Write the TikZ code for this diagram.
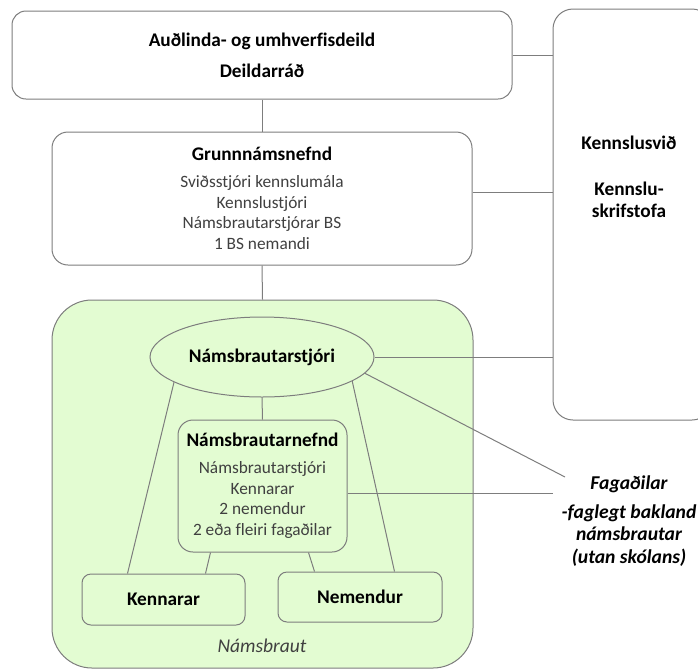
\documentclass[tikz,border=0pt]{standalone}
\usepackage{fontspec}
\setmainfont{Carlito}[Ligatures=CommonOff]
\usetikzlibrary{shapes.geometric,calc}
\definecolor{lineg}{RGB}{125,125,125}
\definecolor{greenf}{RGB}{227,252,210}
\definecolor{txtg}{RGB}{64,64,64}
\newcommand{\bsz}{\fontsize{19.3}{21}\selectfont\bfseries}
\tikzset{
  box/.style={draw=lineg, line width=1pt, rounded corners=14pt, inner sep=0pt, fill=white},
  conn/.style={draw=lineg, line width=1pt},
  bt/.style={font=\bsz, text=black},
  rt/.style={font=\fontsize{17.3}{20.7}\selectfont, text=txtg},
}
\begin{document}
\begin{tikzpicture}[x=1pt,y=-1pt]
\useasboundingbox (0,0) rectangle (698,670);
\clip (0,0) rectangle (698,670);
% boxes
\node[box, minimum width=500pt, minimum height=88pt, align=center, font=\fontsize{19.3}{31}\selectfont\bfseries] (top) at (262,55) {Auðlinda- og umhverfisdeild\\Deildarráð};
\node[box, rounded corners=20pt, minimum width=159pt, minimum height=411pt] (right) at (632.5,214.5) {};
\node[align=center, font=\fontsize{19.3}{22}\selectfont\bfseries] (righttxt) at (629,177) {Kennslusvið\\[24pt]Kennslu-\\skrifstofa};
\node[box, rounded corners=16pt, minimum width=420pt, minimum height=133pt, align=center, rt] (grunn) at (262,198.5)
  {{\bsz\color{black}Grunnnámsnefnd}\\[6pt]Sviðsstjóri kennslumála\\Kennslustjóri\\Námsbrautarstjórar BS\\1 BS nemandi};
\node[box, fill=greenf, rounded corners=40pt, minimum width=421pt, minimum height=368pt] (braut) at (262.5,484) {};
\node[draw=lineg, line width=1pt, ellipse, fill=greenf, minimum width=224pt, minimum height=80pt, inner sep=0pt, bt] (ell) at (262,357) {Námsbrautarstjóri};
\node[box, fill=greenf, rounded corners=15pt, minimum width=169pt, minimum height=132pt, align=center, rt] (nefnd) at (262.5,486)
  {{\bsz\color{black}Námsbrautarnefnd}\\[6pt]Námsbrautarstjóri\\Kennarar\\2 nemendur\\2 eða fleiri fagaðilar};
\node[box, fill=greenf, rounded corners=9pt, minimum width=163pt, minimum height=51pt, bt] (kenn) at (163.5,599.5) {Kennarar};
\node[box, fill=greenf, rounded corners=9pt, minimum width=164pt, minimum height=50pt, bt] (nem) at (360,597) {Nemendur};
\node[font=\fontsize{19.5}{20}\selectfont\itshape, text=txtg] (brauttxt) at (262,646) {Námsbraut};
\node[align=center, font=\fontsize{19.6}{22.5}\selectfont\bfseries\itshape, text=black] (fag) at (629,521)
  {Fagaðilar\\[6pt]-faglegt bakland\\námsbrautar\\(utan skólans)};
% connector endpoints
\coordinate (fagtip) at (565,477);
\coordinate (fagline) at (553,493);
% connectors
\draw[conn] (top.south) -- (grunn.north);
\draw[conn] (grunn.south) -- (braut.north);
\draw[conn] (top.east) -- (top.east -| right.west);
\draw[conn] ([yshift=6pt]grunn.east) -- ([yshift=6pt]grunn.east -| right.west);
\draw[conn] (ell.east) -- (ell.east -| right.west);
\draw[conn] (ell.351) -- (fagtip);
\draw[conn] ([yshift=-7pt]nefnd.east) -- (fagline);
\draw[conn] (ell.south) -- (nefnd.north);
\draw[conn] (ell.196) -- ([xshift=46pt]kenn.north west);
\draw[conn] (ell.345) -- ([xshift=117pt]nem.north west);
\draw[conn] ([xshift=33pt]nefnd.south west) -- ([xshift=124pt]kenn.north west);
\draw[conn] ([xshift=131pt]nefnd.south west) -- ([xshift=37pt]nem.north west);
\end{tikzpicture}
\end{document}
